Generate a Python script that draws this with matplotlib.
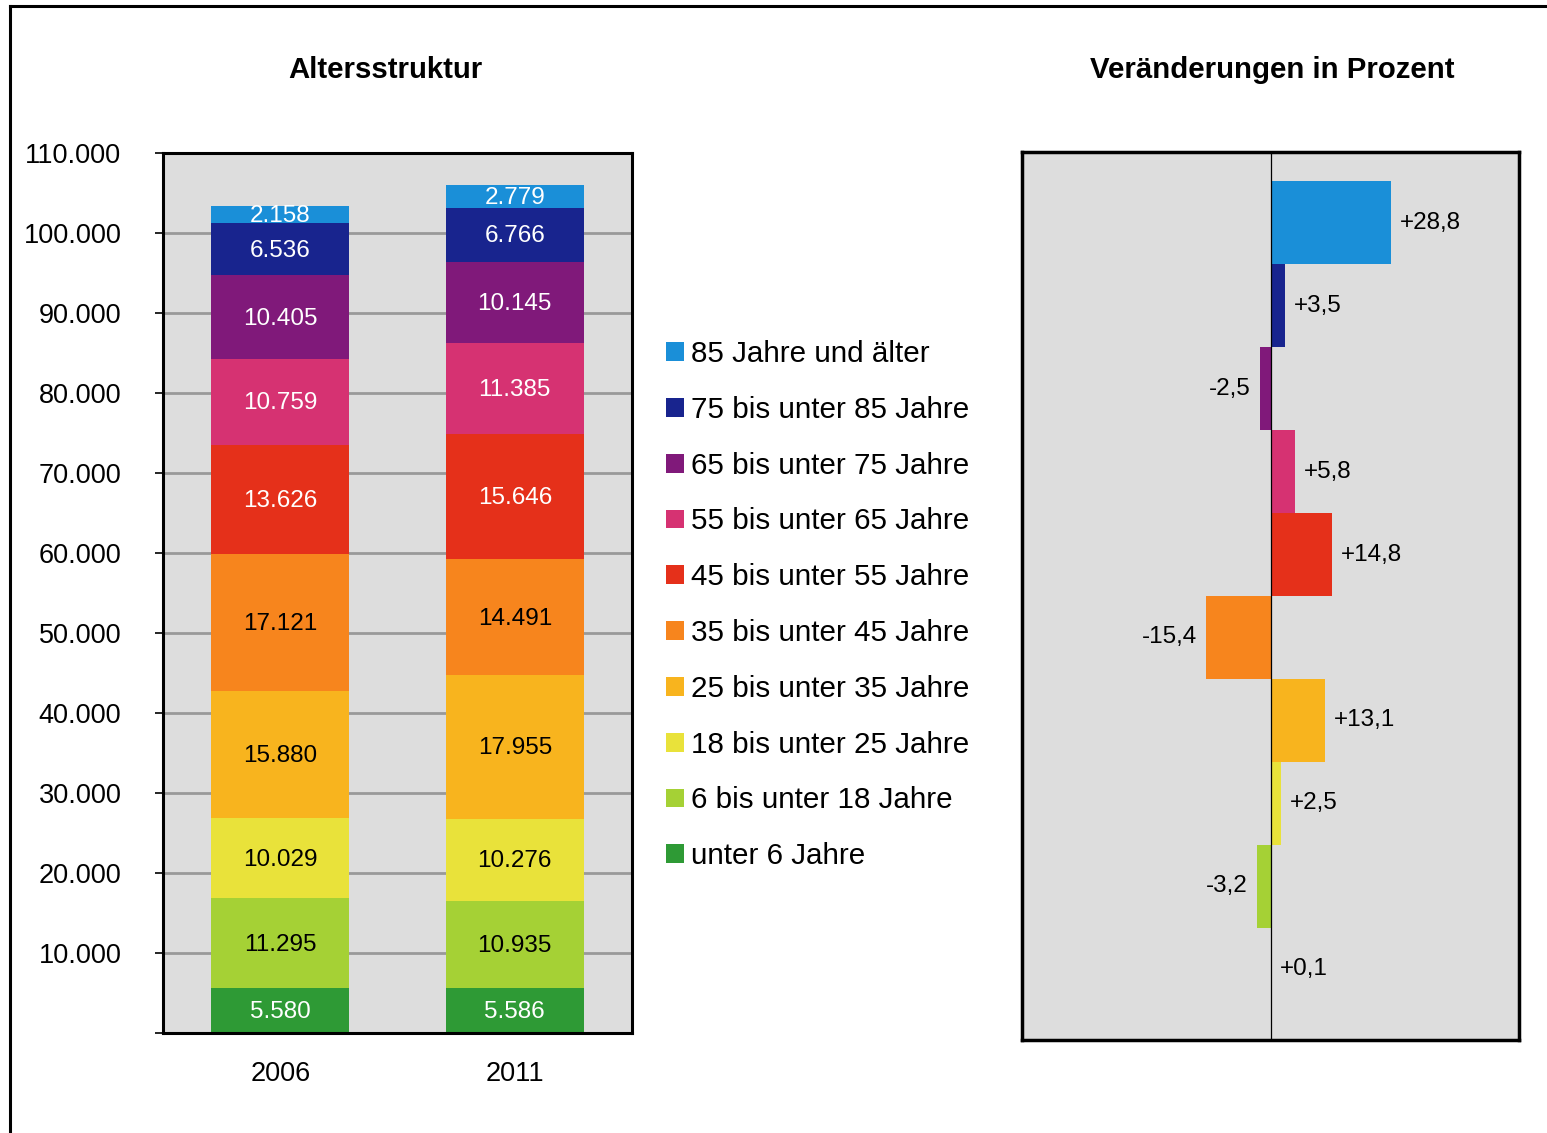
import matplotlib
matplotlib.use("Agg")
import matplotlib.pyplot as plt
from matplotlib.lines import Line2D
from matplotlib.patches import Patch
from matplotlib.ticker import FuncFormatter

plt.rcParams["font.family"] = ["Liberation Sans", "DejaVu Sans"]

years = ["2006", "2011"]
groups = [
    "unter 6 Jahre",
    "6 bis unter 18 Jahre",
    "18 bis unter 25 Jahre",
    "25 bis unter 35 Jahre",
    "35 bis unter 45 Jahre",
    "45 bis unter 55 Jahre",
    "55 bis unter 65 Jahre",
    "65 bis unter 75 Jahre",
    "75 bis unter 85 Jahre",
    "85 Jahre und älter",
]
v2006 = [5580, 11295, 10029, 15880, 17121, 13626, 10759, 10405, 6536, 2158]
v2011 = [5586, 10935, 10276, 17955, 14491, 15646, 11385, 10145, 6766, 2779]
change = [0.1, -3.2, 2.5, 13.1, -15.4, 14.8, 5.8, -2.5, 3.5, 28.8]

colors = ["#2e9a35", "#a5d135", "#e9e23a", "#f8b41e", "#f7851d",
          "#e5301a", "#d63272", "#80197a", "#18248e", "#1a8fd8"]
label_colors = ["white", "black", "black", "black", "black",
                "white", "white", "white", "white", "white"]

bg = "#dddddd"

fig = plt.figure(figsize=(15.47, 11.33), dpi=100)

# outer frame (left + top)
fig.add_artist(Line2D([10 / 1547, 10 / 1547], [1 - 6 / 1133, 0], transform=fig.transFigure,
                      color="black", lw=2.2))
fig.add_artist(Line2D([10 / 1547, 1], [1 - 6 / 1133, 1 - 6 / 1133], transform=fig.transFigure,
                      color="black", lw=2.2))

# --- stacked bars ---
ax = fig.add_axes([163 / 1547, 1 - 1033 / 1133, 469 / 1547, 880 / 1133])
ax.set_facecolor(bg)
x = [0, 1]
bottoms = [0, 0]
for i, g in enumerate(groups):
    vals = [v2006[i], v2011[i]]
    ax.bar(x, vals, width=0.59, bottom=bottoms, color=colors[i], zorder=3)
    for j in range(2):
        ax.annotate(f"{vals[j]:,}".replace(",", "."), (x[j], bottoms[j] + vals[j] / 2),
                    xytext=(0, -1.2), textcoords="offset points",
                    ha="center", va="center", fontsize=17.5, color=label_colors[i], zorder=4)
    bottoms = [bottoms[0] + vals[0], bottoms[1] + vals[1]]

ax.set_xlim(-0.5, 1.5)
ax.set_ylim(0, 110000)
ax.set_yticks(range(0, 110001, 10000))
ax.yaxis.set_major_formatter(FuncFormatter(lambda v, p: "" if v == 0 else f"{int(v):,}".replace(",", ".")))
ax.set_xticks(x)
ax.set_xticklabels(years)
ax.tick_params(axis="y", length=6, width=1.2, pad=24, labelsize=19.5)
ax.tick_params(axis="x", length=0, pad=20, labelsize=19.5)
ax.yaxis.grid(True, color="#999999", lw=2, zorder=1)
for s in ax.spines.values():
    s.set_linewidth(2.2)
    s.set_zorder(5)

fig.text(385 / 1547, 1 - 70 / 1133, "Altersstruktur", ha="center", va="center",
         fontsize=21.2, fontweight="bold")

# legend
handles = [Patch(facecolor=colors[i], label=groups[i]) for i in range(len(groups))][::-1]
fig.legend(handles=handles, loc="upper left", bbox_to_anchor=(666 / 1547, 1 - 340 / 1133),
           frameon=False, fontsize=21.3, handlelength=0.6, handleheight=0.6,
           handletextpad=0.25, labelspacing=0.94, borderpad=0, borderaxespad=0)

# --- percent change ---
ax2 = fig.add_axes([1022 / 1547, 1 - 1040 / 1133, 497 / 1547, 888 / 1133])
ax2.set_facecolor(bg)
ypos = list(range(len(groups)))
ax2.barh(ypos, change, height=1.0, color=colors, zorder=3)
ax2.axvline(0, color="black", lw=0.9, zorder=4)
for i, c in enumerate(change):
    txt = f"{c:+.1f}".replace(".", ",")
    ax2.annotate(txt, (c, ypos[i]), xytext=(6.5 if c > 0 else -6.5, 0), textcoords="offset points",
                 ha="left" if c > 0 else "right", va="center", fontsize=17.5, zorder=5)
ax2.set_xlim(-59.5, 59.5)
ax2.set_ylim(-0.85, 9.85)
ax2.set_xticks([])
ax2.set_yticks([])
for s in ax2.spines.values():
    s.set_linewidth(2.5)

fig.text(1272 / 1547, 1 - 70 / 1133, "Veränderungen in Prozent", ha="center", va="center",
         fontsize=21.2, fontweight="bold")

plt.savefig("out.png", dpi=100)
